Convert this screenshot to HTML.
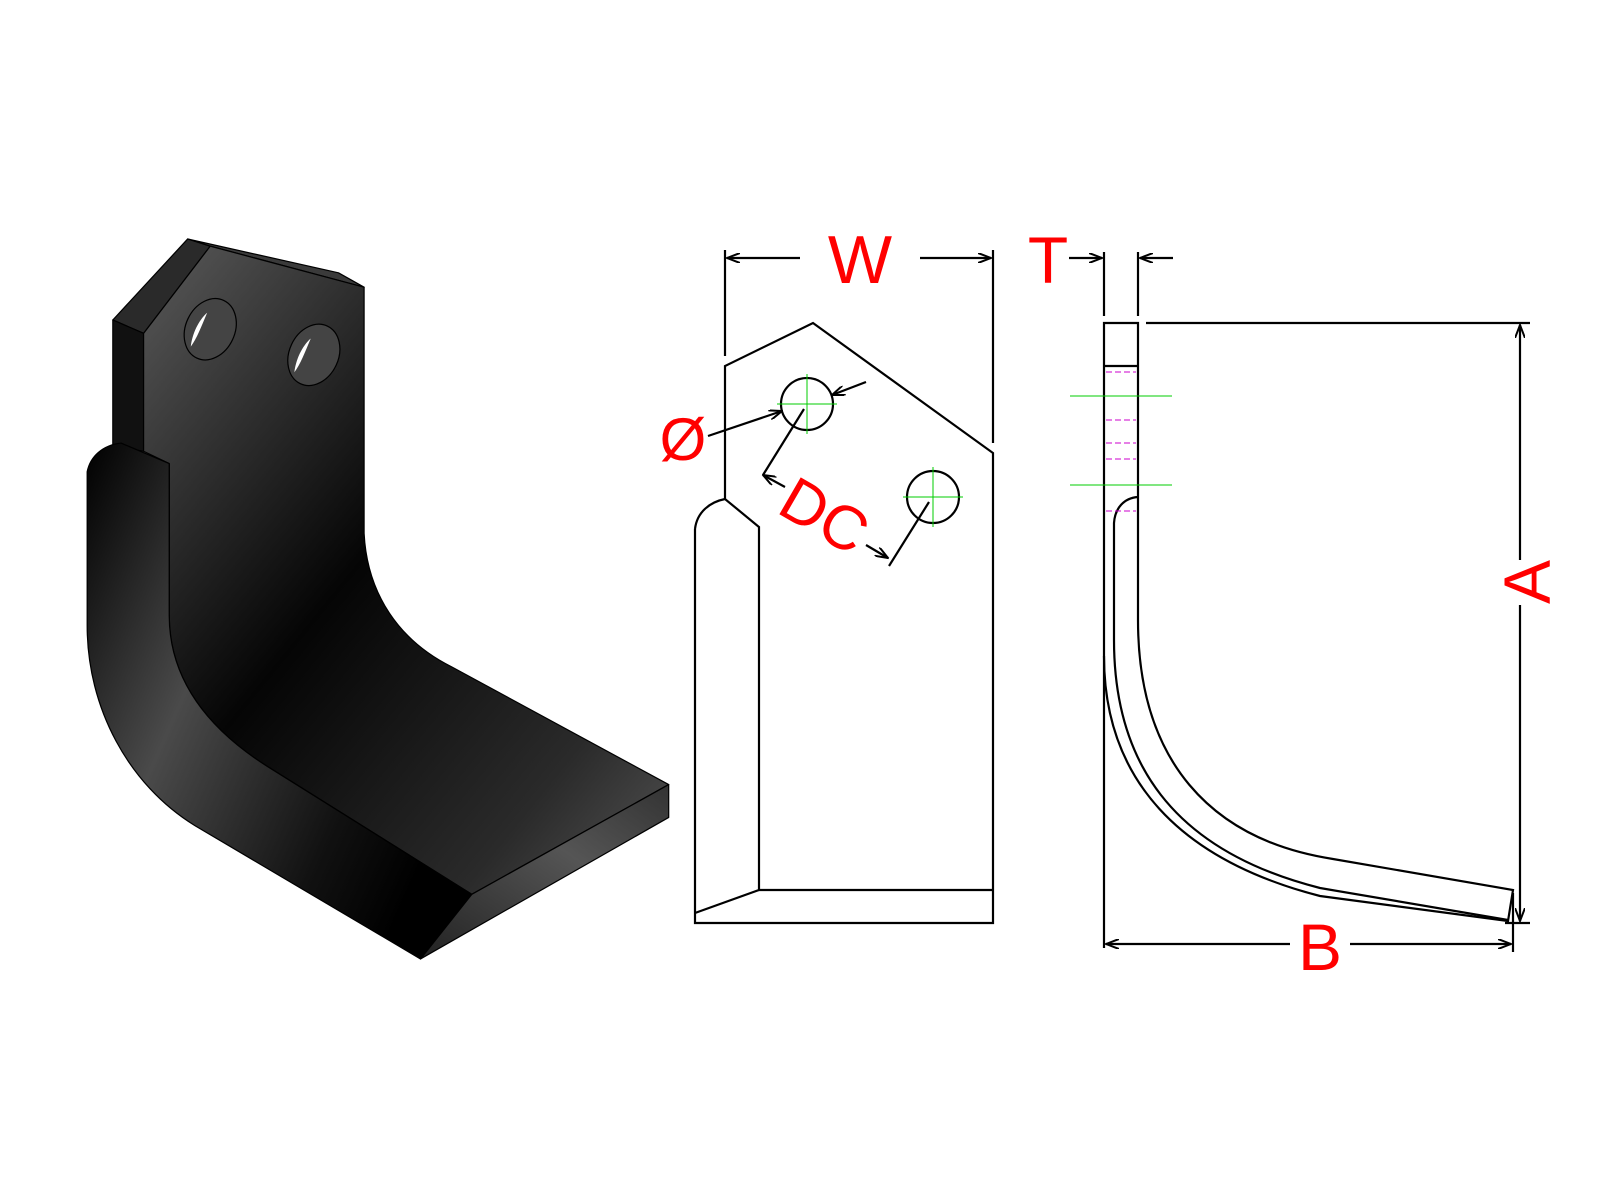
<!DOCTYPE html>
<html><head><meta charset="utf-8"><style>
html,body{margin:0;padding:0;background:#fff;}
svg{display:block}
text{font-family:"Liberation Sans",Arial,sans-serif;fill:#f00}
</style></head><body>
<svg width="1600" height="1200" viewBox="0 0 1600 1200" xmlns="http://www.w3.org/2000/svg">
<defs>
<linearGradient id="g1" x1="0" y1="0" x2="1" y2="1">
<stop offset="0" stop-color="#5a5a5a"/><stop offset="0.45" stop-color="#050505"/><stop offset="0.8" stop-color="#2a2a2a"/><stop offset="1" stop-color="#555"/></linearGradient>
<linearGradient id="g2" x1="0" y1="0" x2="1" y2="0.6">
<stop offset="0" stop-color="#000"/><stop offset="0.4" stop-color="#4a4a4a"/><stop offset="0.8" stop-color="#111"/><stop offset="1" stop-color="#000"/></linearGradient>
<linearGradient id="g3" x1="0" y1="1" x2="1" y2="0">
<stop offset="0" stop-color="#222"/><stop offset="0.6" stop-color="#555"/><stop offset="1" stop-color="#333"/></linearGradient>
<marker id="ar" markerWidth="14" markerHeight="10" refX="13" refY="5" orient="auto" markerUnits="userSpaceOnUse">
<path d="M0,0 L13,5 L0,10" fill="none" stroke="#000" stroke-width="2"/></marker>
</defs>

<!-- 3D view (displayed coords scaled) -->
<g transform="scale(1.0256)" stroke="#000" stroke-width="1.2" stroke-linejoin="round">
<polygon points="183,233 205,240 140,325 110,312" fill="#2a2a2a"/>
<polygon points="183,233 330,266 355,280 205,240" fill="#3a3a3a"/>
<polygon points="110,312 140,325 140,440 110,435" fill="#111"/>
<path d="M205,240 L355,280 L355,520 C358,580 390,625 440,650 L652,765 L460,872 L265,750 C200,710 165,660 165,600 L165,452 L140,440 L140,325 Z" fill="url(#g1)"/>
<path d="M85,460 C88,445 100,434 118,432 L165,452 L165,600 C165,660 200,710 265,750 L460,872 L410,935 L190,805 C125,765 85,690 85,610 Z" fill="url(#g2)"/>
<polygon points="460,872 652,765 652,797 410,935" fill="url(#g3)"/>
<ellipse cx="205" cy="321" rx="24" ry="31" transform="rotate(25 205 321)" fill="#444"/>
<ellipse cx="306" cy="346" rx="24" ry="31" transform="rotate(25 306 346)" fill="#444"/>
<path d="M186,338 C188,322 196,310 202,305 C196,319 192,330 186,338Z" fill="#fff" stroke="none"/>
<path d="M287,363 C289,347 297,335 303,330 C297,344 293,355 287,363Z" fill="#fff" stroke="none"/>
</g>

<!-- Front view -->
<g stroke="#000" stroke-width="2.2" fill="none">
<line x1="725" y1="250" x2="725" y2="356"/>
<line x1="993" y1="250" x2="993" y2="443"/>
<line x1="800" y1="258" x2="727" y2="258" marker-end="url(#ar)"/>
<line x1="920" y1="258" x2="991" y2="258" marker-end="url(#ar)"/>
<polyline points="725,499 725,366 813,323 993,453 993,923 695,923 695,529"/>
<path d="M695,529 C697,512 710,502 725,499 L759,527 L759,890 L993,890"/>
<line x1="759" y1="890" x2="695" y2="913"/>
<circle cx="807" cy="404" r="26"/>
<circle cx="933" cy="497" r="26"/>
<line x1="708" y1="436" x2="782" y2="411" marker-end="url(#ar)"/>
<line x1="866" y1="382" x2="832" y2="395" marker-end="url(#ar)"/>
<line x1="804" y1="409" x2="763" y2="475"/>
<line x1="785" y1="487" x2="763" y2="475" marker-end="url(#ar)"/>
<line x1="929" y1="502" x2="889" y2="566"/>
<line x1="866" y1="545" x2="888" y2="558" marker-end="url(#ar)"/>
</g>
<g stroke="#0c0" stroke-width="1">
<line x1="777" y1="404" x2="837" y2="404"/><line x1="807" y1="374" x2="807" y2="434"/>
<line x1="903" y1="497" x2="963" y2="497"/><line x1="933" y1="467" x2="933" y2="527"/>
</g>
<text x="860" y="283" font-size="68" text-anchor="middle">W</text>
<text x="683" y="460" font-size="60" text-anchor="middle">Ø</text>
<text x="822" y="520" font-size="62" text-anchor="middle" dominant-baseline="middle" transform="rotate(30 822 520)">DC</text>

<!-- Side view -->
<g stroke="#000" stroke-width="2.2" fill="none">
<line x1="1104" y1="252" x2="1104" y2="316"/>
<line x1="1138" y1="252" x2="1138" y2="316"/>
<line x1="1069" y1="258" x2="1102" y2="258" marker-end="url(#ar)"/>
<line x1="1173" y1="258" x2="1140" y2="258" marker-end="url(#ar)"/>
<polyline points="1104,948 1104,323 1138,323 1138,620"/>
<line x1="1104" y1="366" x2="1138" y2="366"/>
<line x1="1146" y1="323" x2="1530" y2="323"/>
<path d="M1138,497 C1124,498 1115,508 1114,523 L1114,640 C1114,760 1170,850 1320,888 L1508,920"/>
<path d="M1138,620 C1138,760 1210,840 1333,859 L1513,890 L1508,921 L1320,896 C1180,860 1104,780 1104,656"/>
<line x1="1520" y1="560" x2="1520" y2="325" marker-end="url(#ar)"/>
<line x1="1520" y1="605" x2="1520" y2="921" marker-end="url(#ar)"/>
<line x1="1505" y1="923" x2="1530" y2="923"/>
<line x1="1513" y1="893" x2="1513" y2="952"/>
<line x1="1290" y1="944" x2="1106" y2="944" marker-end="url(#ar)"/>
<line x1="1350" y1="944" x2="1511" y2="944" marker-end="url(#ar)"/>
</g>
<g stroke="#0c0" stroke-width="1">
<line x1="1070" y1="396" x2="1172" y2="396"/><line x1="1070" y1="485" x2="1172" y2="485"/>
</g>
<g stroke="#c0c" stroke-width="1" stroke-dasharray="6,3">
<line x1="1106" y1="372" x2="1136" y2="372"/><line x1="1106" y1="420" x2="1136" y2="420"/>
<line x1="1106" y1="443" x2="1136" y2="443"/><line x1="1106" y1="459" x2="1136" y2="459"/>
<line x1="1106" y1="511" x2="1136" y2="511"/>
</g>
<text x="1048" y="283" font-size="66" text-anchor="middle">T</text>
<text x="1320" y="970" font-size="66" text-anchor="middle">B</text>
<text x="1550" y="582" font-size="66" text-anchor="middle" transform="rotate(-90 1550 582)">A</text>
</svg>
</body></html>
